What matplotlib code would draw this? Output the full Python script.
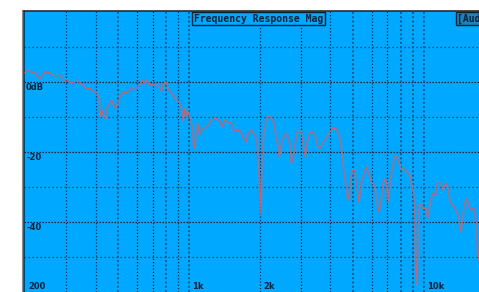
import matplotlib
matplotlib.use("Agg")
import matplotlib.pyplot as plt
from matplotlib.lines import Line2D

# frequency response (Hz, dB)
freq_hz = [
    200, 206, 210, 216, 223, 232, 236, 244, 256, 269,
    282, 290, 302, 314, 324, 337, 350, 368, 379, 398,
    410, 416, 420, 428, 434, 443, 450, 461, 470, 484,
    493, 508, 523, 550, 572, 589, 600, 618, 635, 646,
    660, 682, 703, 731, 745, 765, 783, 798, 814, 846,
    872, 898, 929, 946, 962, 976, 990, 1015, 1037, 1050,
    1064, 1078, 1095, 1114, 1144, 1190, 1249, 1312, 1355, 1392,
    1423, 1470, 1520, 1570, 1623, 1658, 1704, 1762, 1789, 1850,
    1911, 1954, 1974, 2007, 2027, 2053, 2087, 2129, 2177, 2251,
    2302, 2348, 2402, 2425, 2466, 2507, 2590, 2649, 2694, 2739,
    2782, 2829, 2893, 2951, 3021, 3069, 3142, 3192, 3278, 3386,
    3477, 3556, 3641, 3735, 3862, 3989, 4096, 4260, 4370, 4474,
    4576, 4667, 4773, 4820, 4900, 4983, 5097, 5213, 5316, 5442,
    5566, 5715, 5863, 6003, 6140, 6305, 6449, 6578, 6688, 6794,
    6957, 7067, 7186, 7379, 7570, 7720, 7870, 8004, 8324, 8598,
    8803, 8977, 9093, 9182, 9273, 9337, 9428, 9521, 9596, 9806,
    9961, 10230, 10460, 10710, 10990, 11280, 11470, 11820, 12120, 12450,
    12730, 13030, 13370, 13820, 14180, 14420, 14670, 15000, 15340, 15640,
    16010, 16380, 16700, 16920, 17090, 17210,
]
mag_db = [
    2.6, 3.4, 3.1, 2.6, 2.6, 0.9, 1.4, 2.9, 2.6, 1.7,
    2.0, 0.6, 0.6, -0.3, 0.0, 0.3, -0.6, -2.0, -1.7, -2.9,
    -3.4, -4.6, -10.0, -8.0, -9.7, -10.6, -6.9, -6.0, -5.1, -7.4,
    -7.1, -4.3, -3.1, -2.9, -1.7, -1.7, -1.7, -0.9, 0.6, -0.6,
    0.6, -0.9, -0.6, -1.1, -0.9, -2.6, -0.3, 0.0, -1.7, -3.1,
    -4.6, -5.4, -6.9, -11.1, -7.4, -9.7, -8.3, -10.6, -13.1, -18.3,
    -18.9, -13.7, -11.7, -15.1, -13.1, -13.1, -10.9, -10.3, -11.1, -12.9,
    -10.9, -11.4, -11.7, -14.0, -13.7, -14.0, -15.7, -17.1, -14.6, -13.7,
    -15.1, -16.6, -22.3, -28.9, -38.0, -23.7, -15.1, -11.4, -9.7, -10.3,
    -11.4, -14.6, -18.6, -21.4, -19.4, -16.3, -14.6, -15.7, -17.1, -23.1,
    -22.3, -18.9, -14.6, -14.0, -14.3, -17.4, -21.4, -17.4, -14.6, -14.3,
    -15.7, -18.6, -18.9, -17.4, -16.0, -14.3, -13.1, -13.4, -14.9, -18.6,
    -25.1, -28.9, -33.7, -33.7, -28.0, -25.1, -25.1, -30.0, -34.3, -28.9,
    -26.6, -24.3, -26.0, -28.9, -29.4, -32.9, -37.1, -35.1, -30.9, -27.7,
    -28.3, -34.3, -30.0, -24.3, -21.1, -21.4, -22.9, -24.9, -24.9, -26.0,
    -27.1, -30.3, -32.3, -38.0, -50.9, -58.0, -52.3, -38.0, -35.1, -35.1,
    -36.3, -36.0, -38.9, -34.3, -31.7, -32.3, -28.9, -28.9, -30.9, -28.9,
    -30.0, -34.6, -35.1, -36.6, -38.9, -42.9, -40.0, -34.6, -33.4, -35.7,
    -36.6, -36.0, -38.6, -44.3, -50.0, -50.9,
]

grid_db = [10, 0, -10, -20, -30, -40, -50]
major_db = [0, -20, -40]
grid_hz = [300, 400, 500, 600, 700, 800, 900, 1000,
           2000, 3000, 4000, 5000, 6000, 7000, 8000, 9000, 10000]
blue_hz = [500, 800, 1000, 5000, 8000, 9000, 10000]
y_labels = {0: "0dB", -20: "-20", -40: "-40"}
x_labels = {200: "200", 1000: "1k", 2000: "2k", 10000: "10k"}

W, H = 479, 292
fig = plt.figure(figsize=(W / 100, H / 100), dpi=100, facecolor="white")
ax = fig.add_axes([24 / W, 0, (W - 24) / W, 281 / H])
ax.set_facecolor("#00a8ff")
ax.set_xscale("log")
ax.set_xlim(198, 17200)
ax.set_ylim(-60, 20.29)
ax.set_xticks([])
ax.set_yticks([])
ax.minorticks_off()
for s in ["right", "bottom"]:
    ax.spines[s].set_visible(False)
for s in ["left", "top"]:
    ax.spines[s].set_color("#2b2b2b")
    ax.spines[s].set_linewidth(1.2)

ink = "#0b2236"
for d in grid_db:
    if d in major_db:
        ax.axhline(d, color=ink, lw=0.9, ls=(0, (1.2, 1.2)), zorder=1)
    else:
        ax.axhline(d, color="#123a5c", lw=0.9, ls=(0, (1, 2.2)), zorder=1)
for f in grid_hz:
    if f in blue_hz:
        ax.axvline(f, color="#155a8a", lw=1.4, ls=(0, (1, 1.2)), zorder=1)
    else:
        ax.axvline(f, color=ink, lw=0.9, ls=(0, (1, 1.6)), zorder=1)

ax.plot(freq_hz, mag_db, color="#d0606c", lw=0.9, zorder=3)

lab = dict(color=ink, fontsize=6, fontweight="bold", family="DejaVu Sans")
for d, t in y_labels.items():
    ax.annotate(t, (198, d), xytext=(1.5, -0.8), textcoords="offset points",
                ha="left", va="top", **lab)
for f, t in x_labels.items():
    ax.annotate(t, (f, -60), xytext=(2.5, 1.0), textcoords="offset points",
                ha="left", va="bottom", **lab)

# title box and the clipped box at the top right
fig.text(258.5 / W, 1 - 18.5 / H, "Frequency Response Mag", ha="center", va="center",
         color=ink, fontsize=7, fontweight="bold", family="DejaVu Sans Mono",
         bbox=dict(boxstyle="square,pad=0.15", fc="#00a8ff", ec=ink, lw=1.0))
fig.text(457 / W, 1 - 18.5 / H, "[Aud", ha="left", va="center",
         color=ink, fontsize=7, fontweight="bold", family="DejaVu Sans Mono",
         bbox=dict(boxstyle="square,pad=0.15", fc="#1b82bd", ec=ink, lw=1.0))

# outer light frame line left of the plot
fig.add_artist(Line2D([22 / W, 22 / W], [0, 1 - 10 / H], color="#8a8a8a", lw=0.8))

fig.savefig("out.png", dpi=100, facecolor="white")
